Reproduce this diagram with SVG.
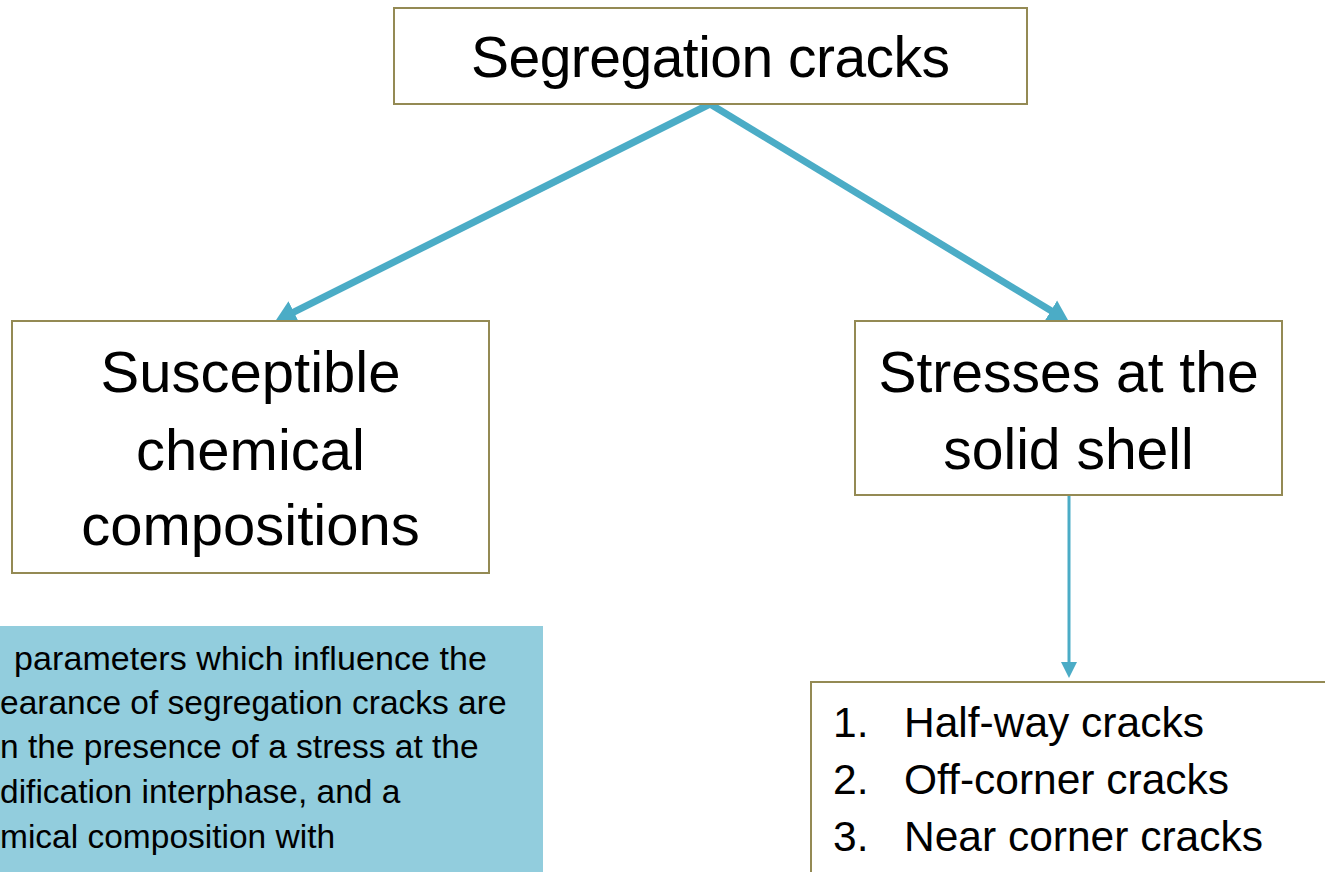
<svg xmlns="http://www.w3.org/2000/svg" width="1325" height="872" viewBox="0 0 1325 872">
<style>
.box{fill:#ffffff;stroke:#948A54;stroke-width:2}
.t{font-family:"Liberation Sans",Arial,sans-serif;fill:#000000}
.c{text-anchor:middle}
.thick{fill:none;stroke:#4BACC6;stroke-width:7}
.thin{fill:none;stroke:#4BACC6;stroke-width:3}
</style>
<defs>
<marker id="ah" markerUnits="userSpaceOnUse" markerWidth="24" markerHeight="26" refX="8" refY="13" orient="auto">
<path d="M0,1 L21,13 L0,25 z" fill="#4BACC6"/>
</marker>
<marker id="ahs" markerUnits="userSpaceOnUse" markerWidth="18" markerHeight="18" refX="3" refY="9" orient="auto">
<path d="M0,1 L16,9 L0,17 z" fill="#4BACC6"/>
</marker>
</defs>
<rect x="0" y="0" width="1325" height="872" fill="#ffffff"/>
<g id="connectors">
<path class="thick" d="M710,104 L286.7,315.6" marker-end="url(#ah)"/>
<path class="thick" d="M710,104 L1057.7,314.8" marker-end="url(#ah)"/>
<path class="thin" d="M1069,496 L1069,665" marker-end="url(#ahs)"/>
</g>
<g id="node-top">
<rect class="box" x="394" y="8" width="633" height="96"/>
<text class="t c" x="710.5" y="77" font-size="57" textLength="479">Segregation cracks</text>
</g>
<g id="node-left">
<rect class="box" x="12" y="321" width="477" height="252"/>
<text class="t c" x="250.5" y="392" font-size="58">Susceptible</text>
<text class="t c" x="250.5" y="470" font-size="58">chemical</text>
<text class="t c" x="250.5" y="545" font-size="58">compositions</text>
</g>
<g id="node-right">
<rect class="box" x="855" y="321" width="427" height="174"/>
<text class="t c" x="1068.5" y="392" font-size="57">Stresses at the</text>
<text class="t c" x="1068.5" y="469" font-size="57">solid shell</text>
</g>
<g id="node-note">
<rect x="-5" y="626" width="548" height="260" fill="#92CDDD"/>
<text class="t" x="14" y="670" font-size="34" textLength="473">parameters which influence the</text>
<text class="t" x="0" y="714" font-size="33.5">earance of segregation cracks are</text>
<text class="t" x="0" y="758" font-size="33.5">n the presence of a stress at the</text>
<text class="t" x="0" y="803" font-size="33.5">dification interphase, and a</text>
<text class="t" x="0" y="848" font-size="33.5">mical composition with</text>
</g>
<g id="node-list">
<rect class="box" x="811" y="682" width="530" height="220"/>
<text class="t" x="833" y="737" font-size="42.5">1.</text>
<text class="t" x="904" y="737" font-size="42.5">Half-way cracks</text>
<text class="t" x="833" y="794" font-size="42.5">2.</text>
<text class="t" x="904" y="794" font-size="42.5">Off-corner cracks</text>
<text class="t" x="833" y="851" font-size="42.5">3.</text>
<text class="t" x="904" y="851" font-size="42.5">Near corner cracks</text>
</g>
</svg>
